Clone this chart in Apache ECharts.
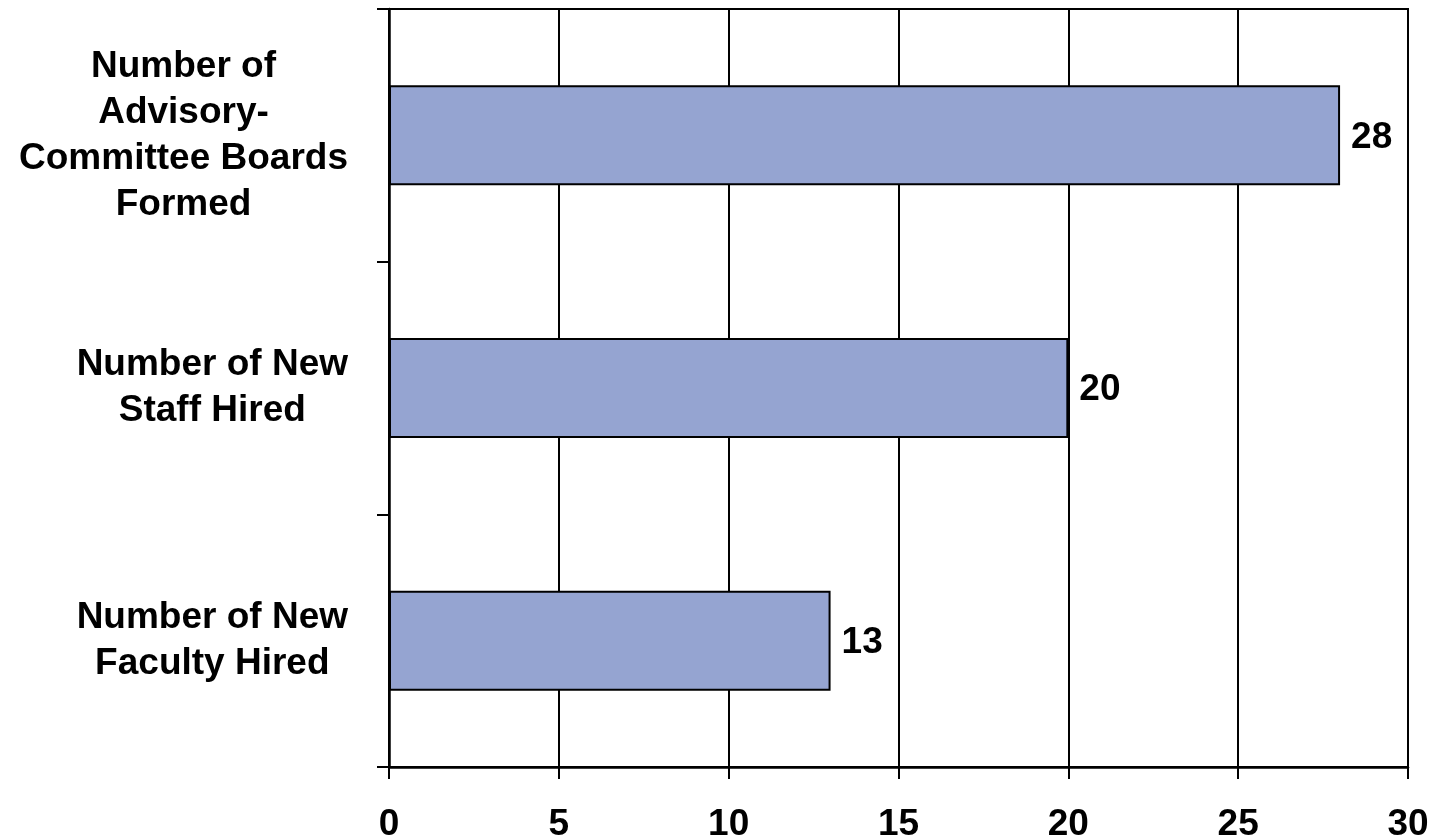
<!DOCTYPE html>
<html>
<head>
<meta charset="utf-8">
<script src="https://cdn.jsdelivr.net/npm/echarts@6/dist/echarts.min.js"></script>
<style>
html,body{margin:0;padding:0;background:#fff;}
#chart{width:1441px;height:840px;}
</style>
</head>
<body>
<div id="chart"></div>
<script>
var categories = [
  "Number of New\nFaculty Hired",
  "Number of New\nStaff Hired",
  "Number of\nAdvisory-\nCommittee Boards\nFormed"
];
var values = [13, 20, 28];
var xTicks = { min: 0, max: 30, interval: 5 };

var FONT = "'Liberation Sans', Arial, sans-serif";
var chart = echarts.init(document.getElementById('chart'));
chart.setOption({
  animation: false,
  backgroundColor: '#ffffff',
  grid: {
    left: 389, right: 33, top: 9, bottom: 73,
    show: true, borderColor: '#000', borderWidth: 2,
    containLabel: false, outerBoundsMode: 'none'
  },
  xAxis: {
    type: 'value',
    min: xTicks.min, max: xTicks.max, interval: xTicks.interval,
    axisLine: { show: true, lineStyle: { color: '#000', width: 2.5 } },
    axisTick: { show: true, length: 12, lineStyle: { color: '#000', width: 2 } },
    splitLine: { show: true, lineStyle: { color: '#000', width: 2 } },
    axisLabel: {
      margin: 39, color: '#000', fontSize: 37, fontWeight: 'bold', fontFamily: FONT
    }
  },
  yAxis: {
    type: 'category',
    data: categories,
    axisLine: { show: true, lineStyle: { color: '#000', width: 2.5 } },
    axisTick: { show: true, length: 12, lineStyle: { color: '#000', width: 2 } },
    splitLine: { show: false },
    axisLabel: {
      margin: 41,
      align: 'right',
      formatter: function (v) {
        return v.split('\n').map(function (l) { return '{c|' + l + '}'; }).join('\n');
      },
      rich: {
        c: {
          align: 'center', color: '#000', fontSize: 37, fontWeight: 'bold',
          fontFamily: FONT, lineHeight: 46
        }
      }
    }
  },
  series: [{
    type: 'bar',
    data: values,
    barWidth: 100,
    itemStyle: { color: '#95A4D1', borderColor: '#000', borderWidth: 2 },
    label: {
      show: true, position: 'right', distance: 11, offset: [0, 2],
      color: '#000', fontSize: 37, fontWeight: 'bold', fontFamily: FONT
    }
  }]
});
</script>
</body>
</html>
